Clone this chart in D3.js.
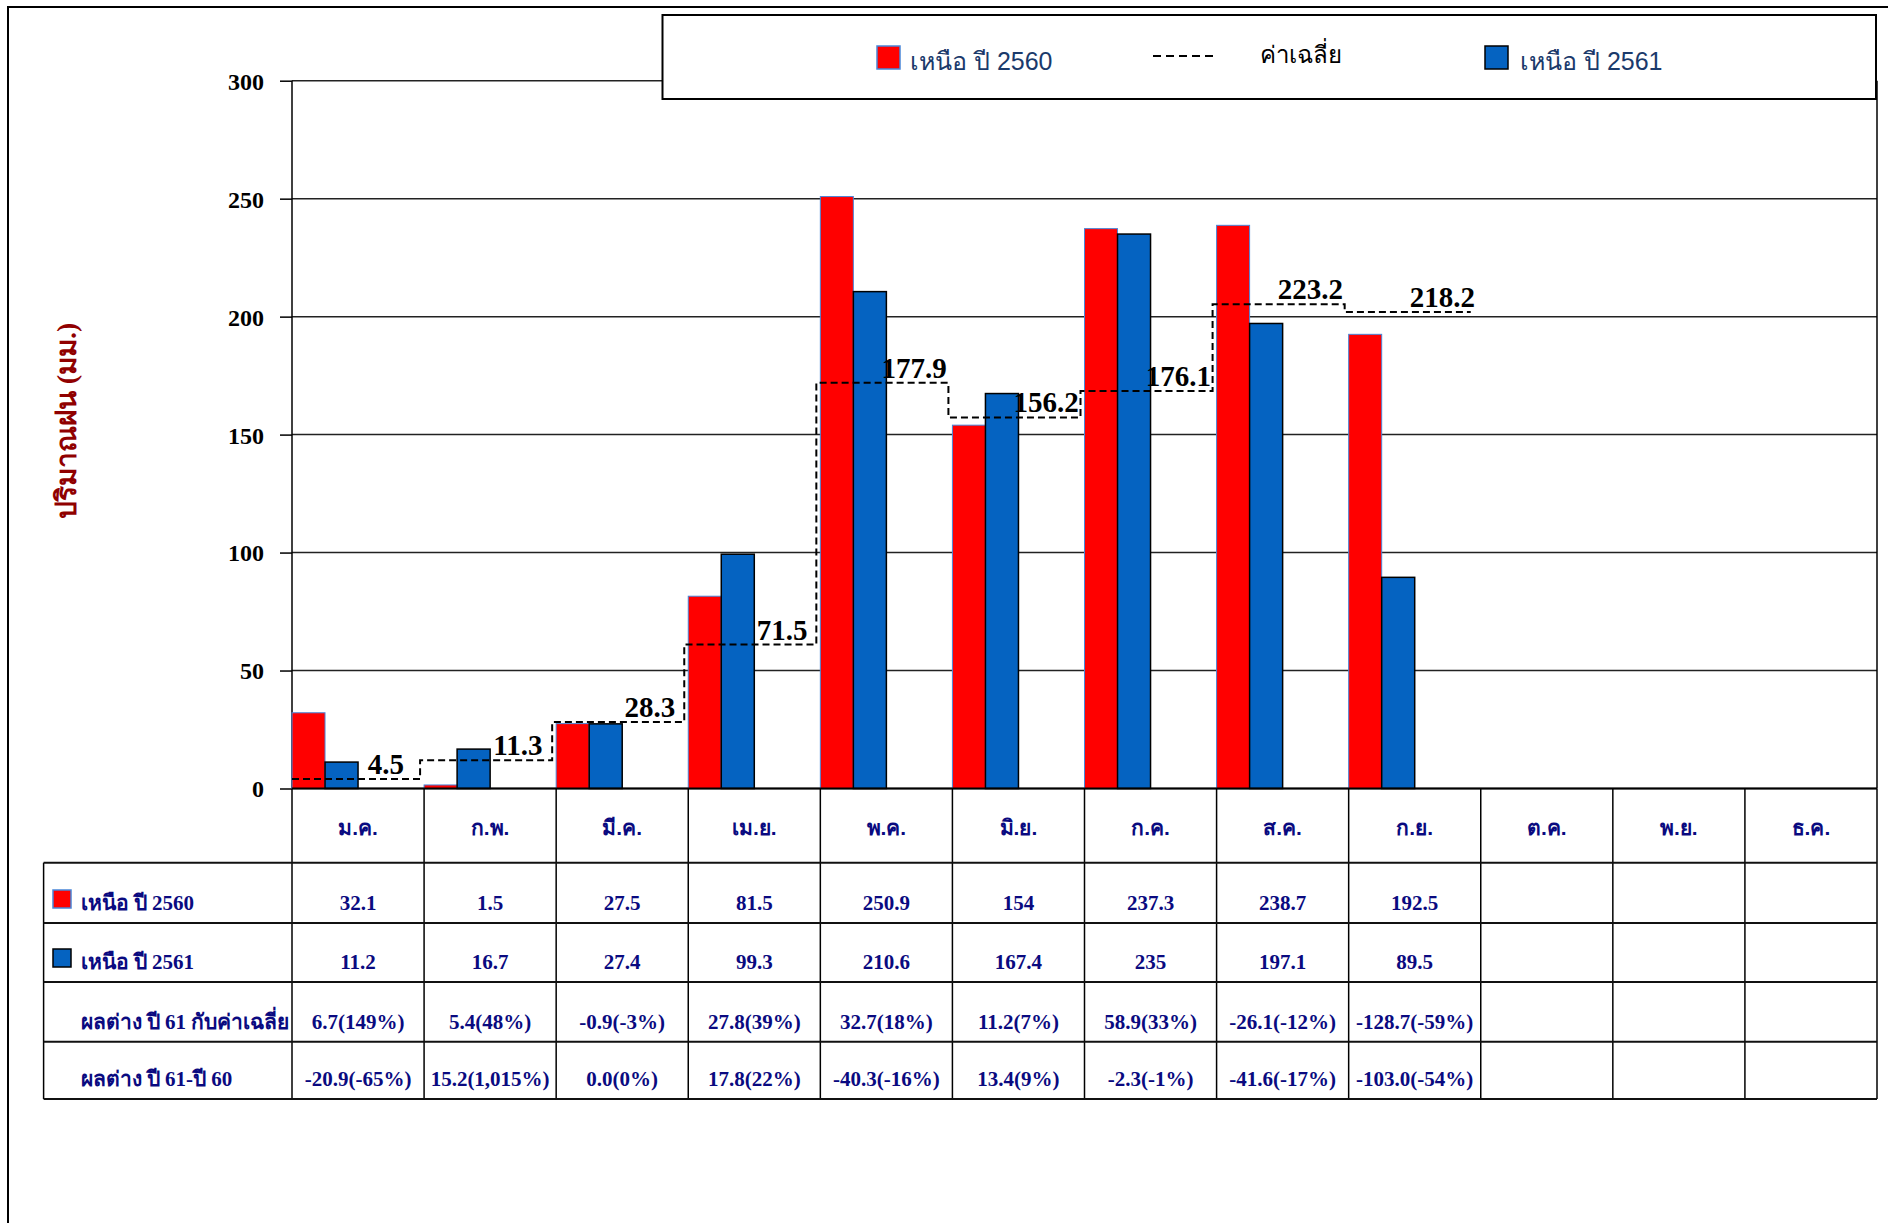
<!DOCTYPE html>
<html>
<head>
<meta charset="utf-8">
<script src="https://cdn.jsdelivr.net/npm/d3@7"></script>
<style>
  html, body { margin: 0; padding: 0; background: #fff; }
  svg { display: block; }
</style>
</head>
<body>
<script>
// ---------------- data ----------------
const months = ['ม.ค.','ก.พ.','มี.ค.','เม.ย.','พ.ค.','มิ.ย.','ก.ค.','ส.ค.','ก.ย.','ต.ค.','พ.ย.','ธ.ค.'];
const north2560 = [32.1, 1.5, 27.5, 81.5, 250.9, 154, 237.3, 238.7, 192.5];
const north2561 = [11.2, 16.7, 27.4, 99.3, 210.6, 167.4, 235, 197.1, 89.5];
const avgLabels = [4.5, 11.3, 28.3, 71.5, 177.9, 156.2, 176.1, 223.2, 218.2];
// level at which the dashed average line is actually drawn in the picture
const avgDrawn = [4.0, 12.0, 28.2, 61.0, 172.0, 157.3, 168.5, 205.3, 202.0];
const diffAvg = ['6.7(149%)','5.4(48%)','-0.9(-3%)','27.8(39%)','32.7(18%)','11.2(7%)','58.9(33%)','-26.1(-12%)','-128.7(-59%)'];
const diffYear = ['-20.9(-65%)','15.2(1,015%)','0.0(0%)','17.8(22%)','-40.3(-16%)','13.4(9%)','-2.3(-1%)','-41.6(-17%)','-103.0(-54%)'];
const yTicks = [0, 50, 100, 150, 200, 250, 300];
const seriesNames = ['เหนือ ปี 2560', 'เหนือ ปี 2561'];
const avgName = 'ค่าเฉลี่ย';
const rowNames = ['เหนือ ปี 2560', 'เหนือ ปี 2561', 'ผลต่าง ปี 61 กับค่าเฉลี่ย', 'ผลต่าง ปี 61-ปี 60'];
const yTitle = 'ปริมาณฝน (มม.)';

// ---------------- layout ----------------
const W = 1888, H = 1223;
const plotL = 292, plotR = 1877, plotT = 80.7, plotB = 788.5;
const tableL = 43.6;
const rowEdges = [788.5, 862.7, 923, 982, 1041.7, 1099];
const RED = '#FF0000', BLUE = '#0563C1', NAVY = '#0A0A80';
const SERIF = '"Liberation Serif", "Times New Roman", serif';
const SANS = '"Liberation Sans", Arial, sans-serif';

const svg = d3.select('body').append('svg').attr('width', W).attr('height', H);

// outer frame (only top/left visible)
svg.append('rect').attr('x', 8).attr('y', 7).attr('width', W + 50).attr('height', H + 50)
  .attr('fill', '#fff').attr('stroke', '#000').attr('stroke-width', 2);

const x = d3.scaleBand().domain(months).range([plotL, plotR]).paddingInner(0).paddingOuter(0);
const bw = x.bandwidth();
const y = d3.scaleLinear().domain([0, 300]).range([plotB, plotT]);

// gridlines + ticks
const yAxis = d3.axisLeft(y).tickValues(yTicks).tickSize(12).tickFormat(d3.format('d'));
const gy = svg.append('g').attr('transform', `translate(${plotL},0)`).call(yAxis);
gy.select('.domain').remove();
gy.selectAll('.tick line').attr('stroke', '#000').attr('stroke-width', 1.5);
gy.selectAll('.tick text').attr('font-family', SERIF).attr('font-weight', 'bold')
  .attr('font-size', 24).attr('fill', '#000').attr('x', -28).attr('dy', '0.35em');
svg.append('g').selectAll('line').data(yTicks).join('line')
  .attr('x1', plotL).attr('x2', plotR).attr('y1', d => y(d)).attr('y2', d => y(d))
  .attr('stroke', '#222').attr('stroke-width', 1.5);
// plot border left/right
svg.append('line').attr('x1', plotL).attr('x2', plotL).attr('y1', plotT).attr('y2', plotB)
  .attr('stroke', '#000').attr('stroke-width', 1.5);
svg.append('line').attr('x1', plotR).attr('x2', plotR).attr('y1', plotT).attr('y2', plotB)
  .attr('stroke', '#000').attr('stroke-width', 1.5);

// bars
const m9 = months.slice(0, north2560.length);
svg.append('g').selectAll('rect').data(north2560).join('rect')
  .attr('x', (d, i) => x(m9[i])).attr('width', bw / 4)
  .attr('y', d => y(d)).attr('height', d => y(0) - y(d))
  .attr('fill', RED).attr('stroke', '#4A86D8').attr('stroke-width', 1);
svg.append('g').selectAll('rect').data(north2561).join('rect')
  .attr('x', (d, i) => x(m9[i]) + bw / 4).attr('width', bw / 4)
  .attr('y', d => y(d)).attr('height', d => y(0) - y(d))
  .attr('fill', BLUE).attr('stroke', '#000').attr('stroke-width', 1.5);

// dashed average step line
const stepPts = [];
avgDrawn.forEach((v, i) => {
  const s = i === 0 ? plotL : x(m9[i]) - 4;
  const e = i === avgDrawn.length - 1 ? x(m9[i]) + bw - 10 : x(m9[i]) + bw - 4;
  stepPts.push([s, y(v)], [e, y(v)]);
});
svg.append('path').attr('d', d3.line()(stepPts)).attr('fill', 'none')
  .attr('stroke', '#000').attr('stroke-width', 2).attr('stroke-dasharray', '7,4');
svg.append('g').selectAll('text').data(avgLabels).join('text')
  .attr('x', (d, i) => x(m9[i]) + bw * 0.71).attr('y', (d, i) => y(avgDrawn[i]) - 5)
  .attr('text-anchor', 'middle').attr('font-family', SERIF).attr('font-weight', 'bold')
  .attr('font-size', 29).attr('fill', '#000').text(d => d);

// y title
svg.append('text').attr('transform', 'translate(76,421) rotate(-90)')
  .attr('text-anchor', 'middle').attr('font-family', SERIF).attr('font-weight', 'bold')
  .attr('font-size', 28).attr('fill', '#900000').text(yTitle);

// ---------------- data table ----------------
const tg = svg.append('g');
const lineAttrs = sel => sel.attr('stroke', '#000').attr('stroke-width', 1.5);
tg.selectAll('line.v').data(months.concat(['end'])).join('line')
  .attr('x1', (d, i) => plotL + i * bw).attr('x2', (d, i) => plotL + i * bw)
  .attr('y1', plotB).attr('y2', rowEdges[5]).call(lineAttrs);
tg.append('line').attr('x1', tableL).attr('x2', tableL).attr('y1', rowEdges[1]).attr('y2', rowEdges[5]).call(lineAttrs);
tg.append('line').attr('x1', plotL).attr('x2', plotR).attr('y1', rowEdges[0]).attr('y2', rowEdges[0])
  .attr('stroke', '#000').attr('stroke-width', 2);
tg.selectAll('line.h').data(rowEdges.slice(1)).join('line')
  .attr('x1', tableL).attr('x2', plotR).attr('y1', d => d).attr('y2', d => d)
  .attr('stroke', '#111').attr('stroke-width', 2);

// month labels
tg.selectAll('text.m').data(months).join('text')
  .attr('x', d => x(d) + bw / 2).attr('y', 835).attr('text-anchor', 'middle')
  .attr('font-family', SANS).attr('font-weight', 'bold').attr('font-size', 21)
  .attr('fill', NAVY).text(d => d);

const rows = [north2560.map(String), north2561.map(String), diffAvg, diffYear];
rows.forEach((r, ri) => {
  const base = rowEdges[ri + 2] - 13;
  tg.append('g').selectAll('text').data(r).join('text')
    .attr('x', (d, i) => x(months[i]) + bw / 2).attr('y', base).attr('text-anchor', 'middle')
    .attr('font-family', SERIF).attr('font-weight', 'bold').attr('font-size', 21)
    .attr('fill', NAVY).text(d => d);
  tg.append('text').attr('x', 80.5).attr('y', base)
    .attr('font-family', SERIF).attr('font-weight', 'bold').attr('font-size', 21)
    .attr('fill', NAVY).text(rowNames[ri]);
});
tg.append('rect').attr('x', 53).attr('y', 890).attr('width', 18).attr('height', 18)
  .attr('fill', RED).attr('stroke', '#4A86D8').attr('stroke-width', 1.5);
tg.append('rect').attr('x', 53).attr('y', 949).attr('width', 18).attr('height', 18)
  .attr('fill', BLUE).attr('stroke', '#000').attr('stroke-width', 1.5);

// ---------------- legend ----------------
const lg = svg.append('g');
lg.append('rect').attr('x', 662.5).attr('y', 15).attr('width', 1876 - 662.5).attr('height', 84)
  .attr('fill', '#fff').attr('stroke', '#000').attr('stroke-width', 2);
lg.append('rect').attr('x', 877).attr('y', 46).attr('width', 23).attr('height', 23)
  .attr('fill', RED).attr('stroke', '#4A86D8').attr('stroke-width', 1.5);
lg.append('text').attr('x', 910).attr('y', 70).attr('font-family', SANS).attr('font-size', 25)
  .attr('fill', '#1B3A6B').text(seriesNames[0]);
lg.append('line').attr('x1', 1153).attr('x2', 1216).attr('y1', 56).attr('y2', 56)
  .attr('stroke', '#000').attr('stroke-width', 2).attr('stroke-dasharray', '8,5');
lg.append('text').attr('x', 1260).attr('y', 63).attr('font-family', SANS).attr('font-size', 24)
  .attr('fill', '#000').text(avgName);
lg.append('rect').attr('x', 1485).attr('y', 46).attr('width', 23).attr('height', 23)
  .attr('fill', BLUE).attr('stroke', '#000').attr('stroke-width', 1.5);
lg.append('text').attr('x', 1520).attr('y', 70).attr('font-family', SANS).attr('font-size', 25)
  .attr('fill', '#1B3A6B').text(seriesNames[1]);
</script>
</body>
</html>
